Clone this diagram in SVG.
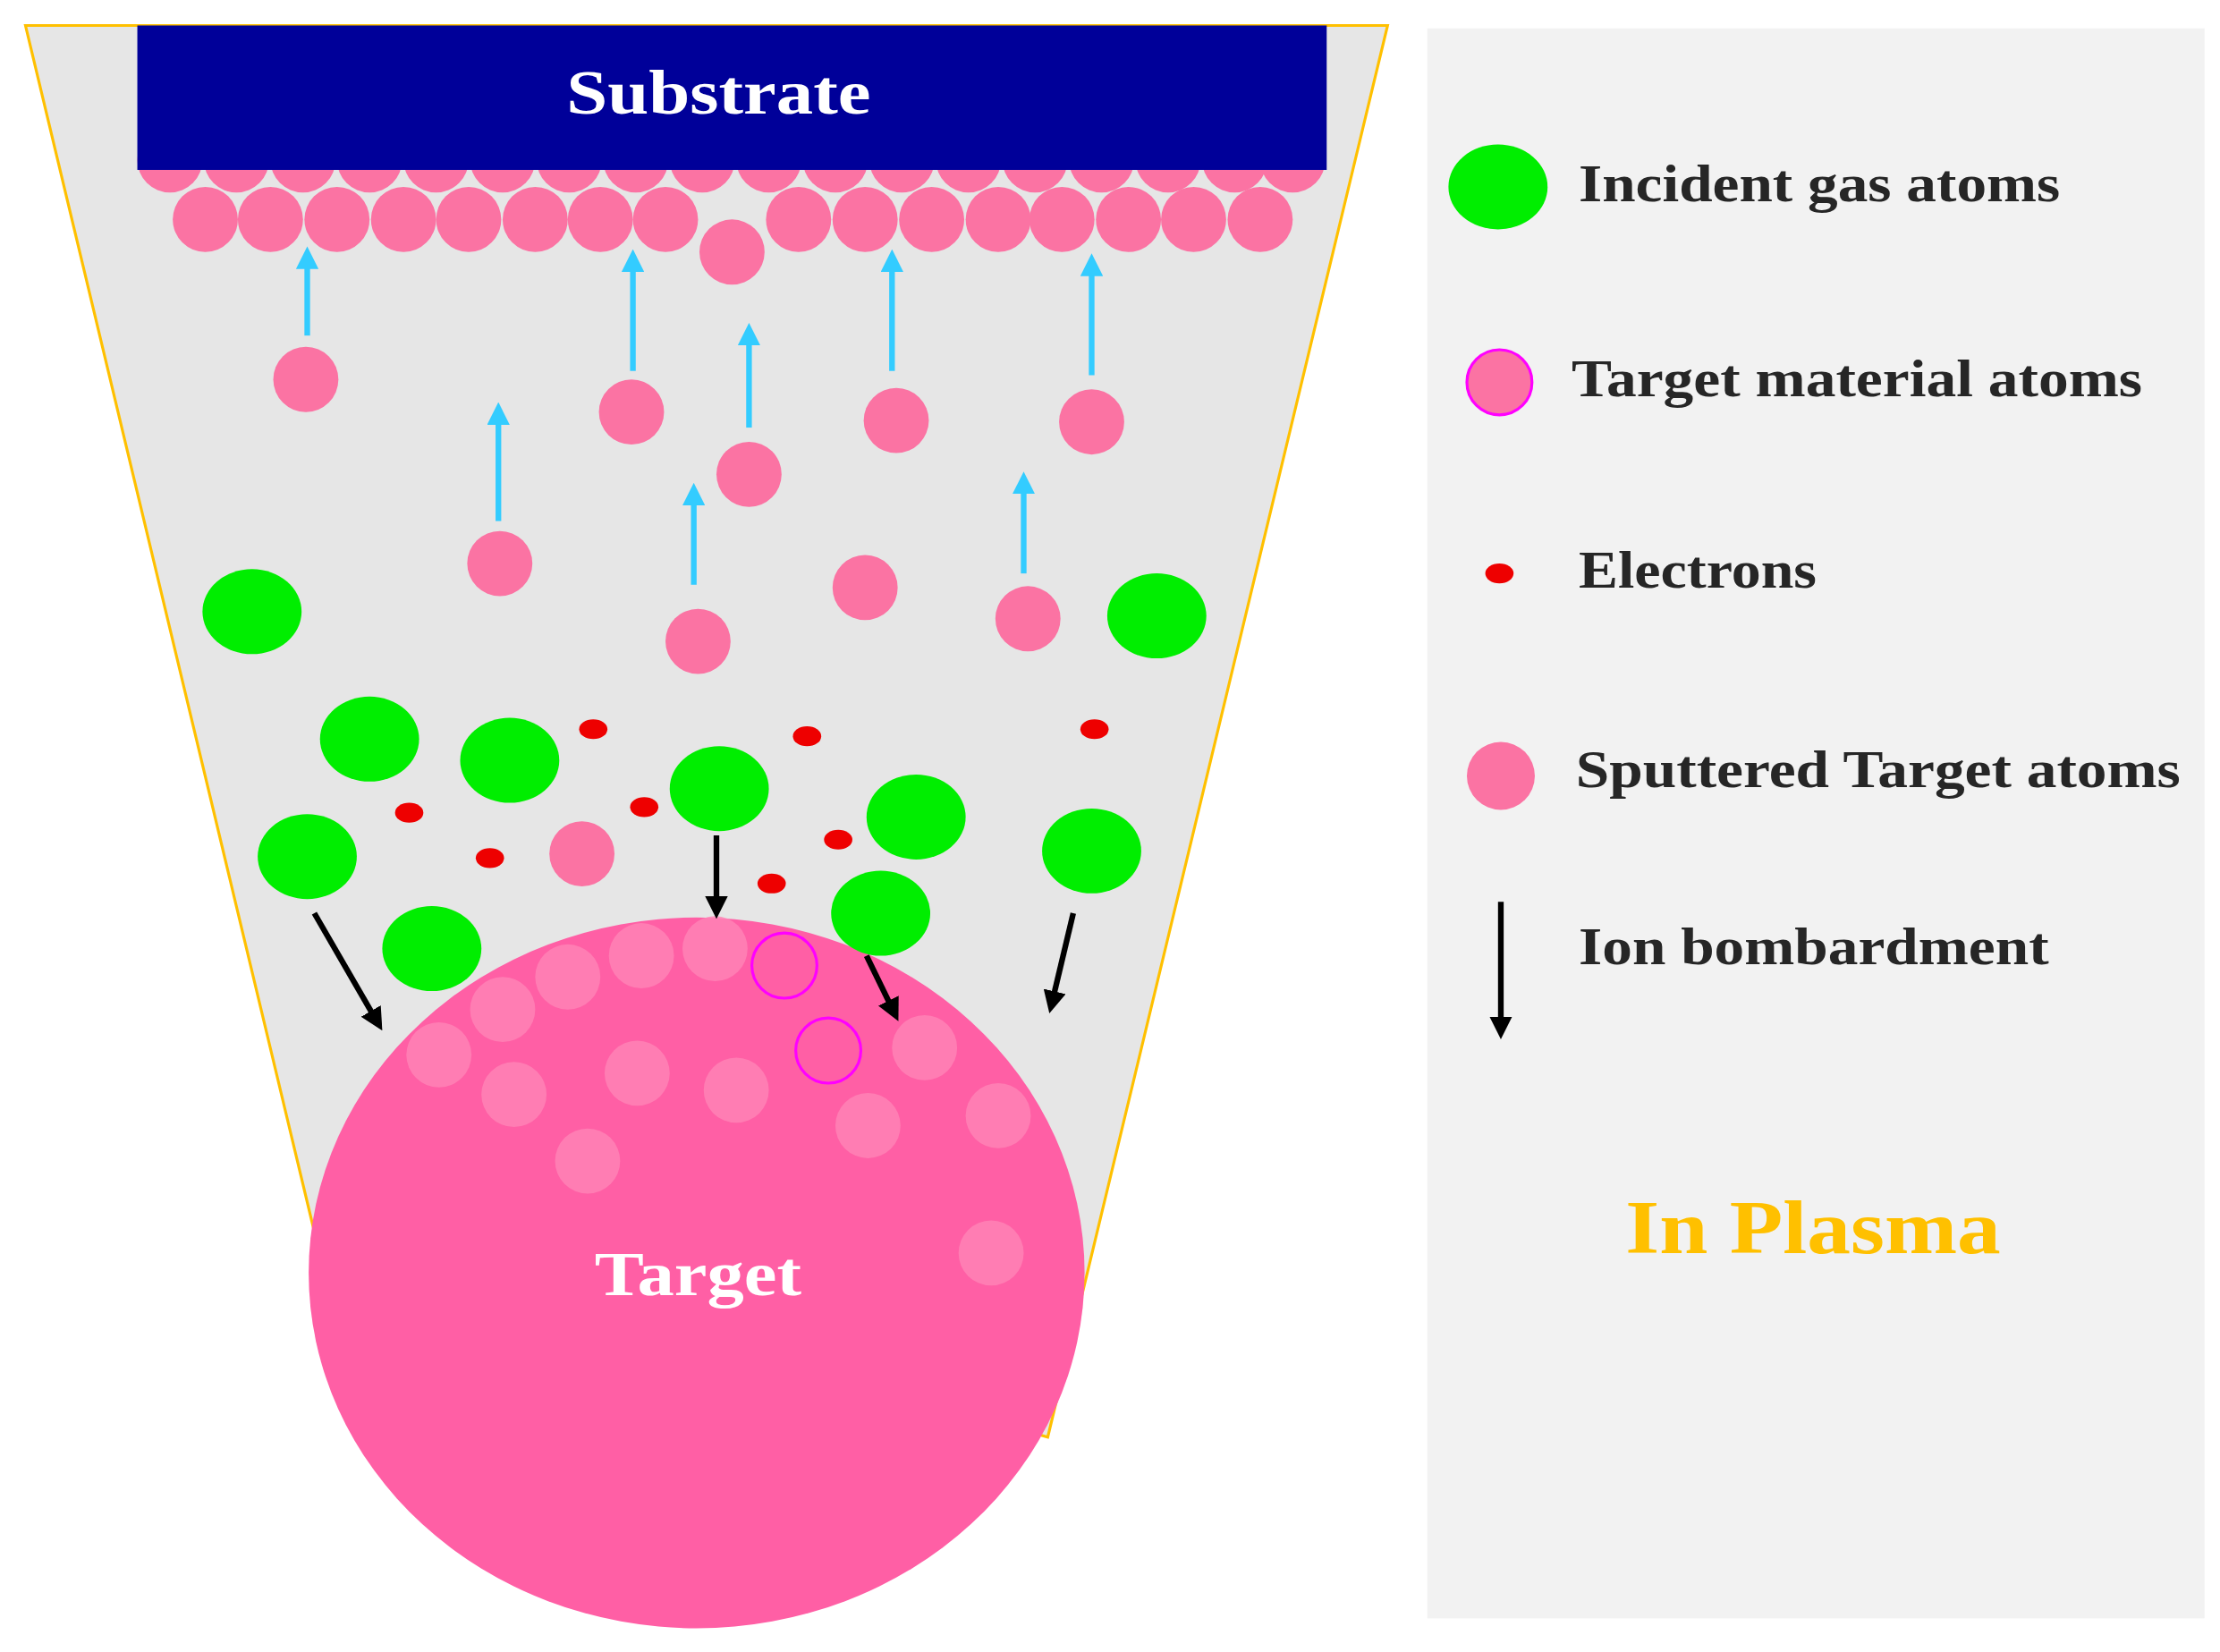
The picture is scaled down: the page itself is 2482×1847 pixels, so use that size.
<svg xmlns="http://www.w3.org/2000/svg" width="2482" height="1847" viewBox="0 0 2482 1847">
<style>
.p{fill:#fb73a3}
.g{fill:#00ee00}
.e{fill:#ee0000}
.lt{fill:#ff85b6;opacity:0.8}
.up{stroke:#33ccff;stroke-width:4;marker-end:url(#cy)}
.dn{stroke:#000;stroke-width:4;marker-end:url(#bk)}
.t{font-family:"Liberation Serif",serif;font-weight:bold}
.lg{font-size:37px;fill:#262626}
</style>
<defs>
<marker id="cy" viewBox="0 0 10 10" refX="5" refY="5" markerWidth="4" markerHeight="4" orient="auto"><path d="M0,0L10,5L0,10z" fill="#33ccff"/></marker>
<marker id="bk" viewBox="0 0 10 10" refX="5" refY="5" markerWidth="4" markerHeight="4" orient="auto"><path d="M0,0L10,5L0,10z" fill="#000"/></marker>
</defs>
<rect width="2482" height="1847" fill="#fff"/>
<g transform="scale(1.583)">
<g id="chamber"><path d="M18,18L980,18L740,1015L222,870Z" fill="#e6e6e6" stroke="#ffc000" stroke-width="2"/></g>
<g id="film">
<circle class="p" cx="120" cy="113" r="23"/><circle class="p" cx="167" cy="113" r="23"/><circle class="p" cx="214" cy="113" r="23"/><circle class="p" cx="261" cy="113" r="23"/><circle class="p" cx="308" cy="113" r="23"/><circle class="p" cx="355" cy="113" r="23"/><circle class="p" cx="402" cy="113" r="23"/><circle class="p" cx="449" cy="113" r="23"/><circle class="p" cx="496" cy="113" r="23"/><circle class="p" cx="543" cy="113" r="23"/><circle class="p" cx="590" cy="113" r="23"/><circle class="p" cx="637" cy="113" r="23"/><circle class="p" cx="684" cy="113" r="23"/><circle class="p" cx="731" cy="113" r="23"/><circle class="p" cx="778" cy="113" r="23"/><circle class="p" cx="825" cy="113" r="23"/><circle class="p" cx="872" cy="113" r="23"/><circle class="p" cx="913" cy="113" r="23"/>
<circle class="p" cx="145" cy="155" r="23"/><circle class="p" cx="191" cy="155" r="23"/><circle class="p" cx="238" cy="155" r="23"/><circle class="p" cx="285" cy="155" r="23"/><circle class="p" cx="331" cy="155" r="23"/><circle class="p" cx="378" cy="155" r="23"/><circle class="p" cx="424" cy="155" r="23"/><circle class="p" cx="470" cy="155" r="23"/><circle class="p" cx="517" cy="178" r="23"/><circle class="p" cx="564" cy="155" r="23"/><circle class="p" cx="611" cy="155" r="23"/><circle class="p" cx="658" cy="155" r="23"/><circle class="p" cx="705" cy="155" r="23"/><circle class="p" cx="750" cy="155" r="23"/><circle class="p" cx="797" cy="155" r="23"/><circle class="p" cx="843" cy="155" r="23"/><circle class="p" cx="890" cy="155" r="23"/>
</g>
<g id="substrate"><rect x="97" y="18" width="840" height="102" fill="#000099"/><text class="t" x="400" y="80" font-size="44" fill="#fff" textLength="215" lengthAdjust="spacingAndGlyphs">Substrate</text></g>
<g id="sputtered">
<circle class="p" cx="216" cy="268" r="23"/><circle class="p" cx="446" cy="291" r="23"/><circle class="p" cx="529" cy="335" r="23"/><circle class="p" cx="633" cy="297" r="23"/><circle class="p" cx="771" cy="298" r="23"/><circle class="p" cx="353" cy="398" r="23"/><circle class="p" cx="493" cy="453" r="23"/><circle class="p" cx="611" cy="415" r="23"/><circle class="p" cx="726" cy="437" r="23"/><circle class="p" cx="411" cy="603" r="23"/>
</g>
<g id="electrons">
<ellipse class="e" cx="419" cy="515" rx="10" ry="7"/><ellipse class="e" cx="570" cy="520" rx="10" ry="7"/><ellipse class="e" cx="773" cy="515" rx="10" ry="7"/><ellipse class="e" cx="289" cy="574" rx="10" ry="7"/><ellipse class="e" cx="455" cy="570" rx="10" ry="7"/><ellipse class="e" cx="346" cy="606" rx="10" ry="7"/><ellipse class="e" cx="592" cy="593" rx="10" ry="7"/><ellipse class="e" cx="545" cy="624" rx="10" ry="7"/>
</g>
<g id="target">
<ellipse cx="492" cy="899" rx="274" ry="251" fill="#ff5fa5"/>
<circle class="lt" cx="310" cy="745" r="23"/><circle class="lt" cx="355" cy="713" r="23"/><circle class="lt" cx="401" cy="690" r="23"/><circle class="lt" cx="453" cy="675" r="23"/><circle class="lt" cx="505" cy="670" r="23"/><circle class="lt" cx="450" cy="758" r="23"/><circle class="lt" cx="363" cy="773" r="23"/><circle class="lt" cx="520" cy="770" r="23"/><circle class="lt" cx="415" cy="820" r="23"/><circle class="lt" cx="613" cy="795" r="23"/><circle class="lt" cx="653" cy="740" r="23"/><circle class="lt" cx="705" cy="788" r="23"/><circle class="lt" cx="700" cy="885" r="23"/>
<circle cx="554" cy="682" r="23" fill="none" stroke="#ff00ff" stroke-width="2"/><circle cx="585" cy="742" r="23" fill="none" stroke="#ff00ff" stroke-width="2"/>
<text class="t" x="420" y="915" font-size="44" fill="#fff" textLength="146" lengthAdjust="spacingAndGlyphs">Target</text>
</g>
<g id="gas">
<ellipse class="g" cx="178" cy="432" rx="35" ry="30"/><ellipse class="g" cx="261" cy="522" rx="35" ry="30"/><ellipse class="g" cx="360" cy="537" rx="35" ry="30"/><ellipse class="g" cx="508" cy="557" rx="35" ry="30"/><ellipse class="g" cx="647" cy="577" rx="35" ry="30"/><ellipse class="g" cx="217" cy="605" rx="35" ry="30"/><ellipse class="g" cx="305" cy="670" rx="35" ry="30"/><ellipse class="g" cx="622" cy="645" rx="35" ry="30"/><ellipse class="g" cx="771" cy="601" rx="35" ry="30"/><ellipse class="g" cx="817" cy="435" rx="35" ry="30"/>
</g>
<g id="connectors">
<line class="up" x1="217" y1="237" x2="217" y2="182"/><line class="up" x1="447" y1="262" x2="447" y2="184"/><line class="up" x1="529" y1="302" x2="529" y2="236"/><line class="up" x1="630" y1="262" x2="630" y2="184"/><line class="up" x1="771" y1="265" x2="771" y2="187"/><line class="up" x1="352" y1="368" x2="352" y2="292"/><line class="up" x1="490" y1="413" x2="490" y2="349"/><line class="up" x1="723" y1="405" x2="723" y2="341"/>
<line class="dn" x1="222" y1="645" x2="266" y2="721"/><line class="dn" x1="506" y1="590" x2="506" y2="641"/><line class="dn" x1="612" y1="675" x2="631" y2="714"/><line class="dn" x1="758" y1="645" x2="743" y2="708"/>
</g>
<g id="legend">
<rect x="1008" y="20" width="549" height="1123" fill="#f2f2f2"/>
<ellipse class="g" cx="1058" cy="132" rx="35" ry="30"/><text class="t lg" x="1115" y="142" textLength="340" lengthAdjust="spacingAndGlyphs">Incident gas atoms</text>
<circle class="p" cx="1059" cy="270" r="23" stroke="#ff00ff" stroke-width="2"/><text class="t lg" x="1110" y="280" textLength="403" lengthAdjust="spacingAndGlyphs">Target material atoms</text>
<ellipse class="e" cx="1059" cy="405" rx="10" ry="7"/><text class="t lg" x="1115" y="415" textLength="168" lengthAdjust="spacingAndGlyphs">Electrons</text>
<circle class="p" cx="1060" cy="548" r="24"/><text class="t lg" x="1113" y="556" textLength="427" lengthAdjust="spacingAndGlyphs">Sputtered Target atoms</text>
<line class="dn" x1="1060" y1="637" x2="1060" y2="726"/><text class="t lg" x="1115" y="681" textLength="332" lengthAdjust="spacingAndGlyphs">Ion bombardment</text>
<text class="t" x="1148" y="885" font-size="54" fill="#ffc000" textLength="265" lengthAdjust="spacingAndGlyphs">In Plasma</text>
</g>
</g>
</svg>
